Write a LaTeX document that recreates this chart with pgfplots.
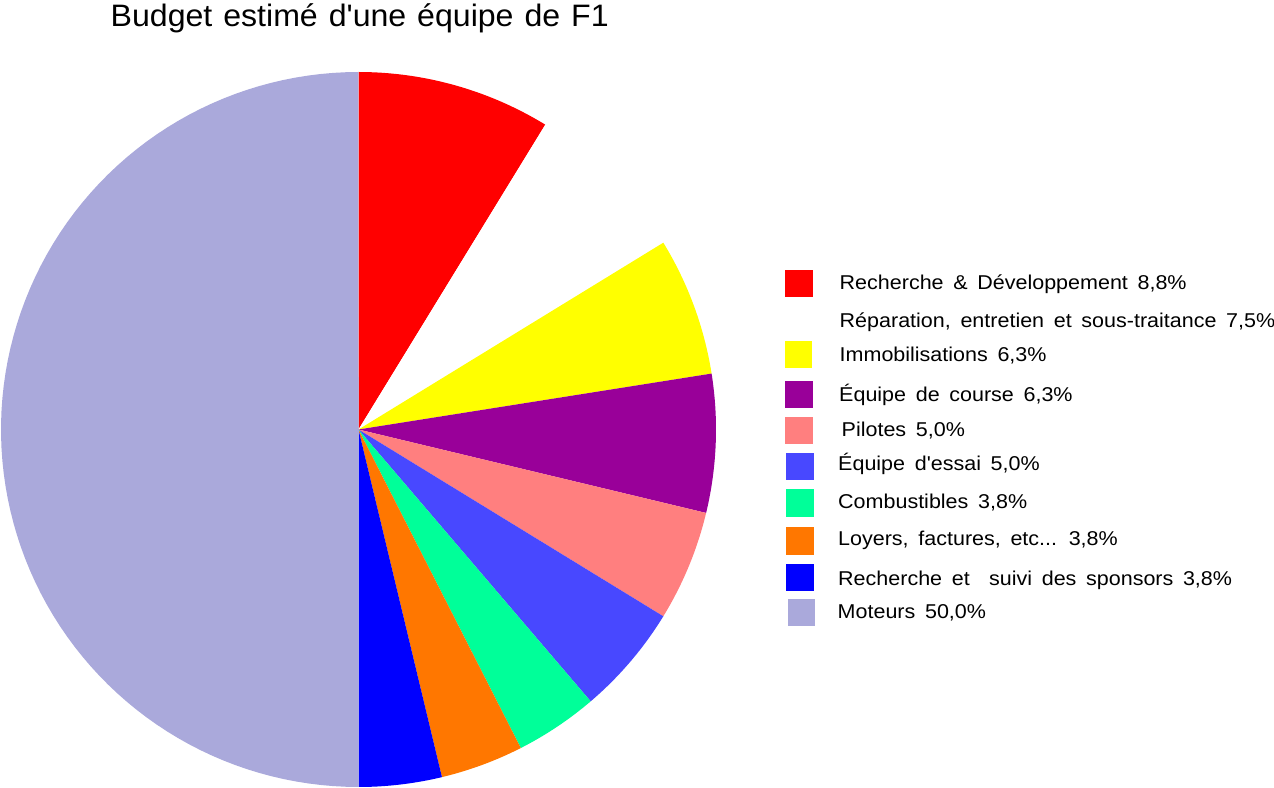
\documentclass[border=0pt]{standalone}
\usepackage{pgfplots}
\pgfplotsset{compat=1.18}
\usepackage{fontspec}
\setmainfont{Liberation Sans}

\definecolor{cRD}{HTML}{FF0000}
\definecolor{cRep}{HTML}{FFFFFF}
\definecolor{cImm}{HTML}{FFFF00}
\definecolor{cCourse}{HTML}{990099}
\definecolor{cPil}{HTML}{FF7F7F}
\definecolor{cEssai}{HTML}{4848FF}
\definecolor{cComb}{HTML}{00FF99}
\definecolor{cLoy}{HTML}{FF7700}
\definecolor{cSpons}{HTML}{0000FF}
\definecolor{cMot}{HTML}{AAA9DB}

% pie geometry (1 unit = 1 px of the reference)
\def\cx{358.5}
\def\cy{357.5}
\def\rr{357.5}
\gdef\cum{0}
% one slice: share in percent, colour; slices run clockwise from the top
\newcommand{\slice}[2]{%
  \pgfmathsetmacro{\sa}{90-\cum*3.6}%
  \pgfmathsetmacro{\tmp}{\cum+#1}\xdef\cum{\tmp}%
  \pgfmathsetmacro{\sb}{90-\cum*3.6}%
  \edef\temp{\noexpand\addplot[fill=#2,draw=none,domain=\sa:\sb,samples=90]
    ({\cx+\rr*cos(x)},{\cy+\rr*sin(x)}) -- (axis cs:\cx,\cy) -- cycle;}\temp}

\newcommand{\q}{\textquotesingle}
\newcommand{\legsp}{\spaceskip=9pt\relax}

\begin{document}
\begin{tikzpicture}
\begin{axis}[
  scale only axis, width=1274pt, height=787pt,
  xmin=0, xmax=1274, ymin=0, ymax=787,
  hide axis, clip=false
]
\slice{8.75}{cRD}
\slice{7.5}{cRep}
\slice{6.25}{cImm}
\slice{6.25}{cCourse}
\slice{5}{cPil}
\slice{5}{cEssai}
\slice{3.75}{cComb}
\slice{3.75}{cLoy}
\slice{3.75}{cSpons}
\slice{50}{cMot}

\node[anchor=base west,inner sep=0pt,xscale=1.035,
  font=\fontsize{31}{37}\selectfont]
  at (axis cs:110.5,760) {\spaceskip=10.6pt\relax Budget estimé d\q une équipe de F1};

\begin{scope}[every node/.style={anchor=base west,inner sep=0pt,xscale=1.075,
    font=\fontsize{20}{24}\selectfont}]
\fill[cRD] (axis cs:785,517) rectangle (axis cs:812.5,490);
\node at (axis cs:839.5,497.5) {\legsp Recherche \& Développement 8,8\%};
\node at (axis cs:839.5,459.3) {\legsp Réparation, entretien et sous-traitance 7,5\%};
\fill[cImm] (axis cs:785,446) rectangle (axis cs:811.5,419.3);
\node at (axis cs:839.5,425.3) {\legsp Immobilisations 6,3\%};
\fill[cCourse] (axis cs:785,406.3) rectangle (axis cs:812.5,378.7);
\node at (axis cs:839,385.3) {\legsp Équipe de course 6,3\%};
\fill[cPil] (axis cs:785,370.3) rectangle (axis cs:812.5,343);
\node at (axis cs:841.5,350) {\legsp Pilotes 5,0\%};
\fill[cEssai] (axis cs:786,334.3) rectangle (axis cs:814,307);
\node at (axis cs:838,316.3) {\legsp Équipe d\q essai 5,0\%};
\fill[cComb] (axis cs:786,297.7) rectangle (axis cs:814,270.3);
\node at (axis cs:838,278) {\legsp Combustibles 3,8\%};
\fill[cLoy] (axis cs:786,259.7) rectangle (axis cs:814,232);
\node at (axis cs:838,241) {\legsp Loyers, factures, etc... 3,8\%};
\fill[cSpons] (axis cs:786,223) rectangle (axis cs:814,196);
\node at (axis cs:838,201.3) {\legsp Recherche et \ suivi des sponsors 3,8\%};
\fill[cMot] (axis cs:788,188) rectangle (axis cs:815,161);
\node at (axis cs:837.5,168.7) {\legsp Moteurs 50,0\%};
\end{scope}
\end{axis}
\pgfresetboundingbox
\path (0,0) rectangle (1274pt,787pt);
\end{tikzpicture}
\end{document}
